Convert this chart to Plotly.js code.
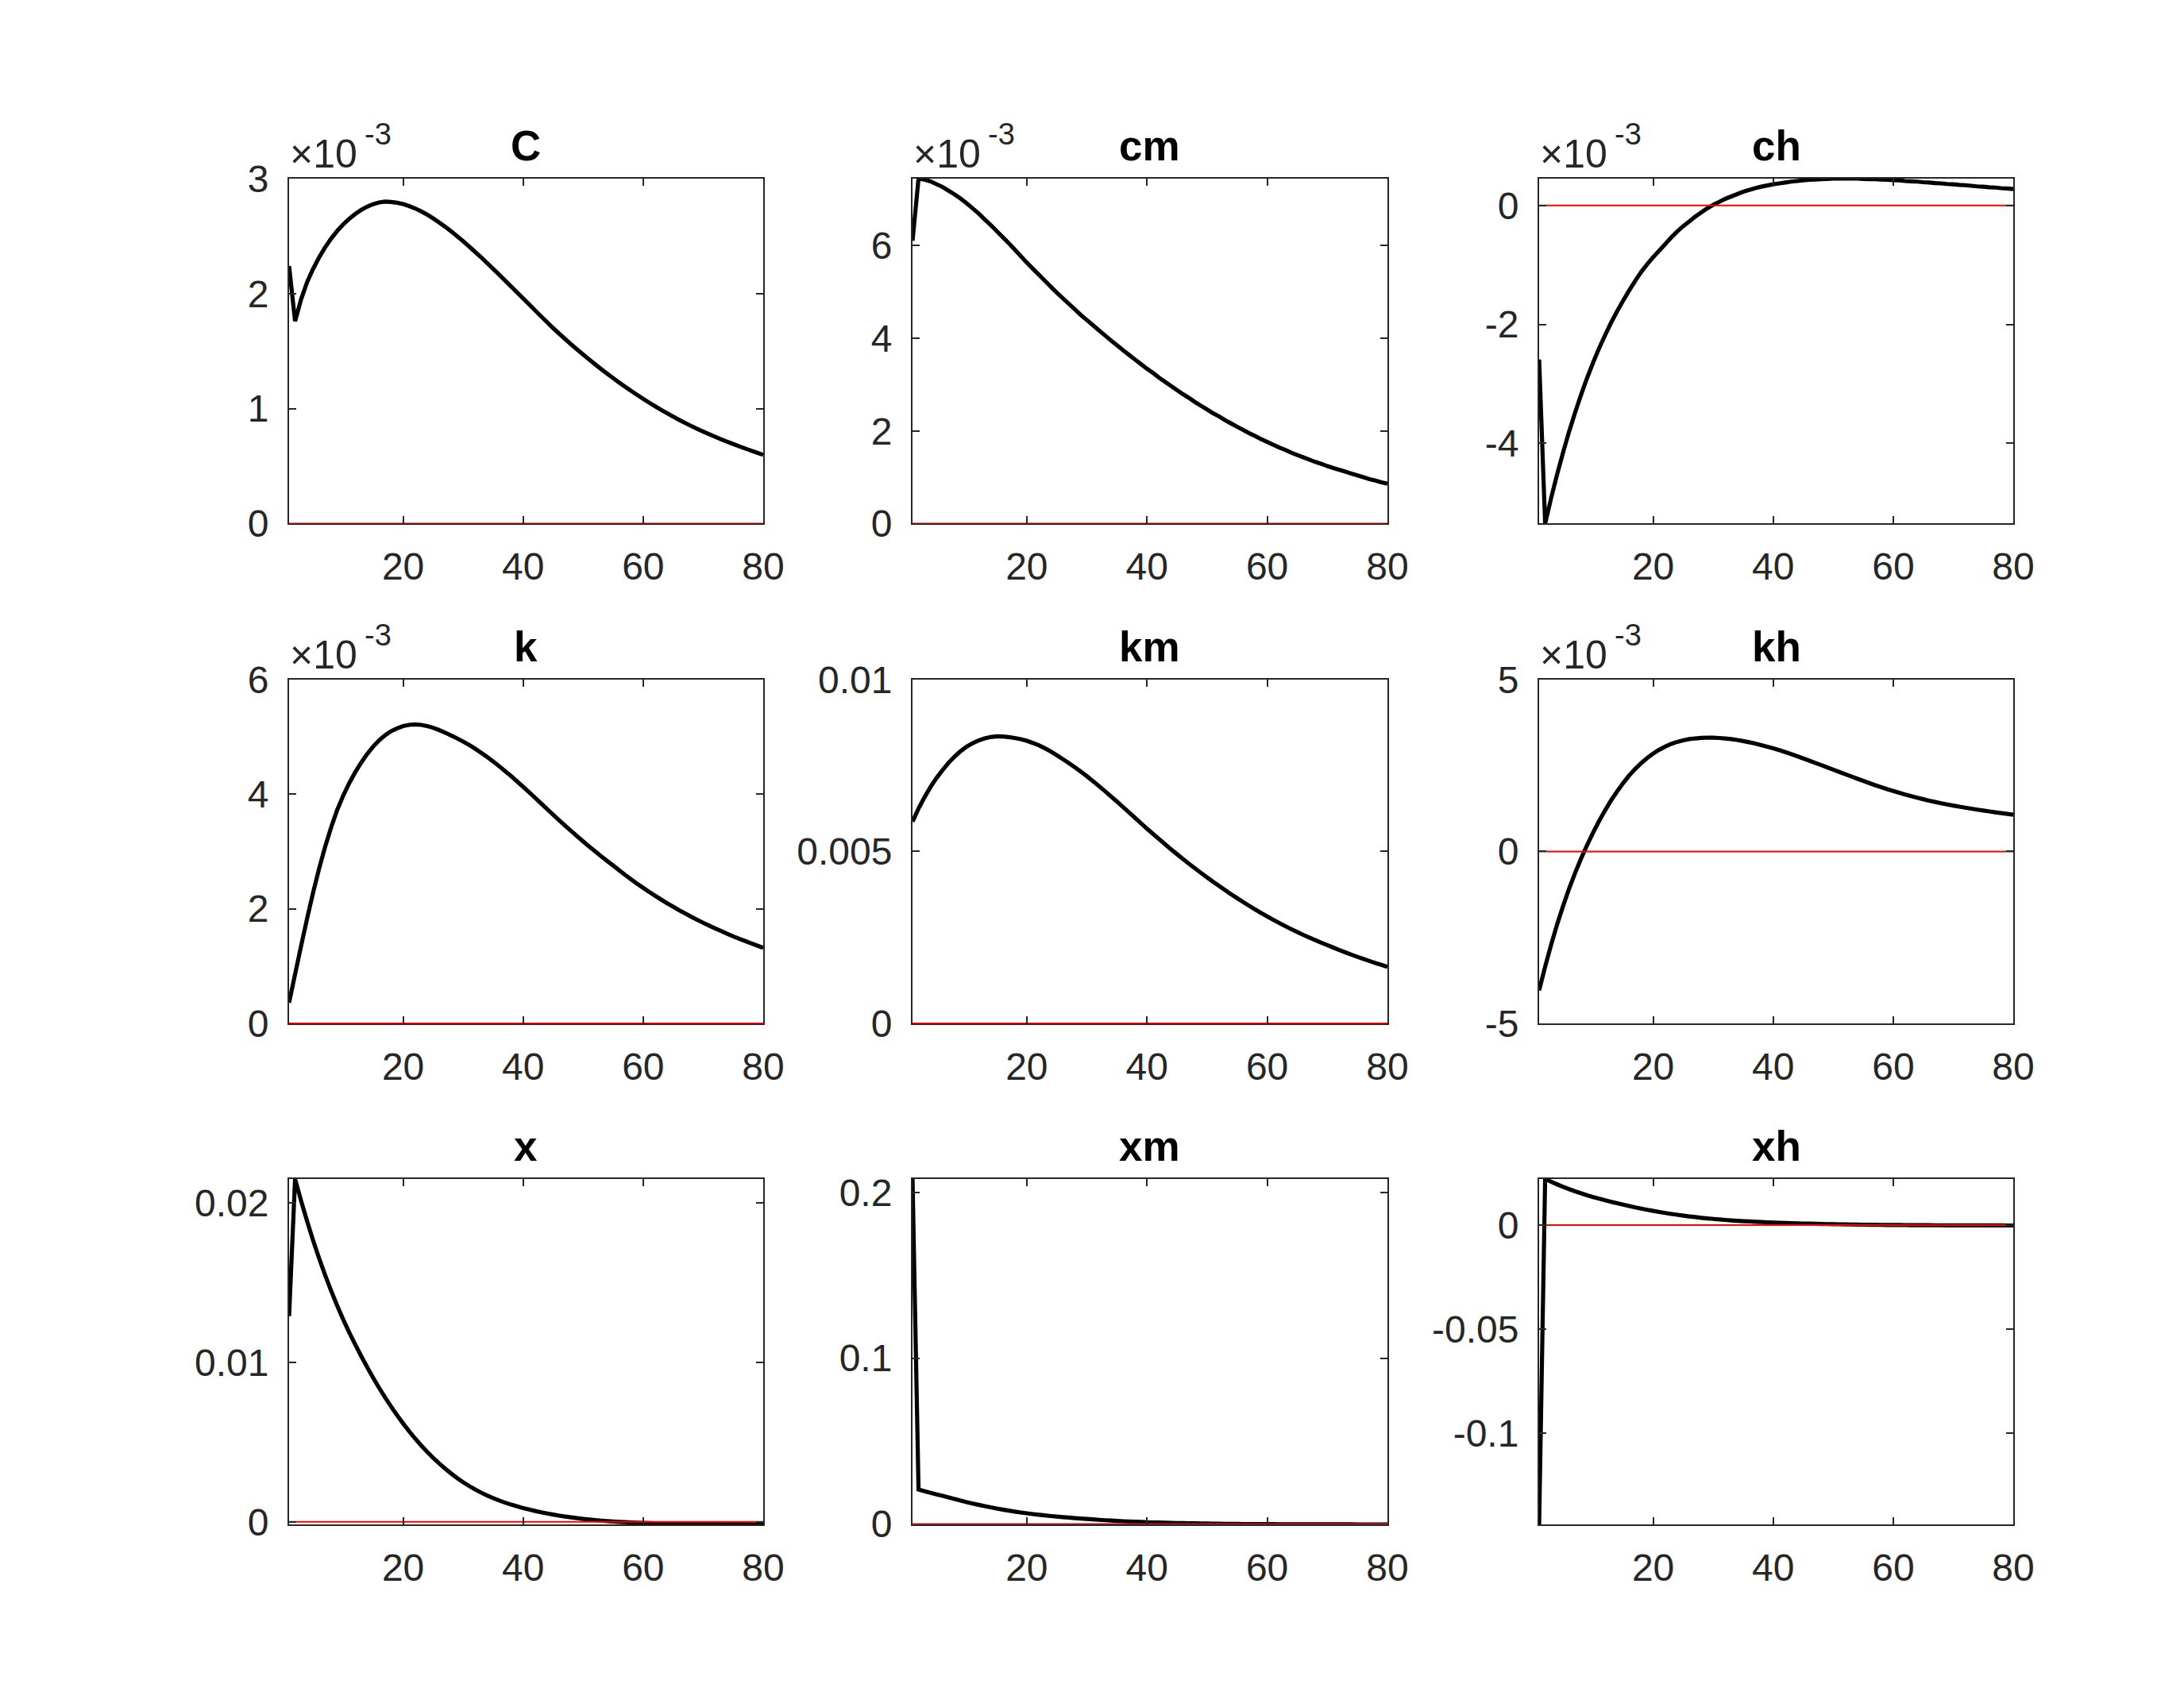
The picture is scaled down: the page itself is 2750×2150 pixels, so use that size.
<!DOCTYPE html>
<html><head><meta charset="utf-8">
<script src="https://cdn.plot.ly/plotly-3.0.1.min.js"></script>
<style>html,body{margin:0;padding:0;background:#fff}#chart{width:2750px;height:2150px}</style>
</head><body><div id="chart"></div>
<script>
const periods = [1,2,3,4,5,6,7,8,9,10,11,12,13,14,15,16,17,18,19,20,21,22,23,24,25,26,27,28,29,30,31,32,33,34,35,36,37,38,39,40,41,42,43,44,45,46,47,48,49,50,51,52,53,54,55,56,57,58,59,60,61,62,63,64,65,66,67,68,69,70,71,72,73,74,75,76,77,78,79,80];

// values in units of 10^-3 (these axes carry the x10^-3 multiplier)
const C = [2.24,1.76,1.95,2.10,2.215,2.315,2.402,2.478,2.544,2.601,
 2.650,2.692,2.727,2.756,2.778,2.793,2.800,2.797,2.790,2.779,
 2.762,2.741,2.716,2.687,2.655,2.620,2.582,2.542,2.500,2.456,
 2.410,2.363,2.315,2.266,2.216,2.165,2.114,2.062,2.010,1.958,
 1.906,1.854,1.802,1.751,1.700,1.652,1.605,1.559,1.514,1.470,
 1.427,1.385,1.344,1.304,1.265,1.227,1.190,1.154,1.119,1.085,
 1.052,1.020,0.989,0.959,0.930,0.902,0.875,0.849,0.824,0.800,
 0.777,0.755,0.733,0.712,0.692,0.672,0.653,0.634,0.616,0.598];

const cm = [6.10,7.44,7.42,7.38,7.32,7.26,7.18,7.10,7.01,6.91,
 6.80,6.69,6.56,6.44,6.31,6.18,6.05,5.91,5.77,5.63,
 5.50,5.37,5.24,5.11,4.98,4.86,4.74,4.62,4.50,4.39,
 4.28,4.17,4.06,3.95,3.85,3.74,3.64,3.54,3.44,3.34,
 3.25,3.15,3.06,2.97,2.88,2.79,2.71,2.62,2.54,2.46,
 2.38,2.31,2.23,2.16,2.09,2.02,1.95,1.89,1.82,1.76,
 1.70,1.64,1.59,1.53,1.48,1.43,1.38,1.33,1.29,1.24,
 1.20,1.16,1.12,1.08,1.04,1.00,0.96,0.93,0.89,0.86];

const ch = [-2.59,-5.35,-4.92,-4.52,-4.15,-3.80,-3.48,-3.18,-2.90,-2.64,
 -2.40,-2.18,-1.97,-1.78,-1.60,-1.43,-1.27,-1.12,-0.99,-0.87,
 -0.76,-0.65,-0.54,-0.44,-0.35,-0.27,-0.19,-0.12,-0.05,0.01,
 0.06,0.11,0.15,0.19,0.23,0.26,0.29,0.315,0.335,0.355,
 0.37,0.385,0.40,0.41,0.42,0.43,0.435,0.44,0.445,0.45,
 0.45,0.45,0.45,0.45,0.445,0.44,0.44,0.435,0.43,0.425,
 0.42,0.41,0.405,0.40,0.39,0.385,0.375,0.37,0.36,0.355,
 0.345,0.34,0.33,0.32,0.315,0.305,0.30,0.29,0.285,0.275];

const k = [0.36,0.86,1.35,1.83,2.28,2.70,3.08,3.42,3.72,3.97,
 4.19,4.38,4.55,4.70,4.83,4.94,5.03,5.10,5.15,5.19,
 5.21,5.22,5.21,5.19,5.16,5.12,5.075,5.025,4.975,4.92,
 4.860,4.794,4.724,4.650,4.572,4.490,4.404,4.315,4.223,4.129,
 4.033,3.936,3.838,3.740,3.642,3.545,3.451,3.358,3.266,3.176,
 3.088,3.002,2.918,2.836,2.756,2.673,2.592,2.513,2.438,2.366,
 2.296,2.227,2.161,2.097,2.036,1.976,1.918,1.862,1.808,1.756,
 1.706,1.658,1.611,1.565,1.520,1.478,1.437,1.397,1.358,1.320];

const kh = [-4.04,-3.35,-2.71,-2.12,-1.58,-1.08,-0.62,-0.20,0.19,0.55,
 0.89,1.20,1.49,1.75,1.99,2.21,2.40,2.57,2.72,2.85,
 2.96,3.05,3.13,3.19,3.235,3.27,3.29,3.305,3.31,3.31,
 3.303,3.289,3.269,3.244,3.214,3.179,3.140,3.097,3.051,3.001,
 2.948,2.892,2.833,2.771,2.708,2.644,2.579,2.513,2.447,2.381,
 2.316,2.250,2.184,2.118,2.054,1.991,1.930,1.871,1.814,1.759,
 1.707,1.657,1.609,1.564,1.521,1.480,1.441,1.404,1.369,1.336,
 1.305,1.275,1.246,1.218,1.191,1.165,1.140,1.116,1.093,1.070];

// values in natural units
const km = [0.00587,0.00625,0.00658,0.00688,0.00714,0.00737,0.00758,0.00776,0.00792,0.00805,
 0.00815,0.00823,0.00829,0.00833,0.00835,0.008345,0.00833,0.008303,0.008266,0.00822,
 0.00816,0.00809,0.008005,0.00791,0.0078,0.007688,0.007571,0.007449,0.007322,0.00719,
 0.00705,0.006906,0.006758,0.006607,0.006454,0.006297,0.006139,0.005981,0.005823,0.005665,
 0.005513,0.005362,0.005213,0.005066,0.004922,0.004781,0.004643,0.004508,0.004376,0.004247,
 0.00412,0.003996,0.003875,0.003757,0.003642,0.00353,0.003421,0.003315,0.003212,0.003112,
 0.003015,0.002921,0.00283,0.002742,0.002657,0.002575,0.002496,0.00242,0.002347,0.002277,
 0.002205,0.002135,0.002067,0.002001,0.001937,0.001875,0.001815,0.001757,0.001701,0.001647];

const x = [0.0129,0.0215,0.020135,0.018856,0.017657,0.016534,0.015482,0.014496,0.013572,0.012706,
 0.011895,0.011135,0.010406,0.009708,0.009041,0.008406,0.007801,0.007227,0.006683,0.006169,
 0.005684,0.005228,0.004799,0.004396,0.00402,0.003668,0.00334,0.003034,0.002751,0.002488,
 0.002249,0.002031,0.001833,0.001653,0.001489,0.00134,0.001204,0.00108,0.000968,0.000865,
 0.00077,0.000682,0.0006,0.000524,0.000455,0.000391,0.000333,0.00028,0.000231,0.000187,
 0.000147,0.000111,0.000078,0.000049,0.000023,0.0,-0.00002,-0.000038,-0.000054,-0.000068,
 -0.00008,-0.00009,-0.0001,-0.00011,-0.000115,-0.00012,-0.000125,-0.00013,-0.000134,-0.000138,
 -0.000141,-0.000144,-0.000147,-0.00015,-0.000152,-0.000154,-0.000156,-0.000157,-0.000158,-0.000159];

const xm = [0.208,0.0208,0.0198,0.0188,0.0179,0.0170,0.0161,0.01507,0.01410,0.01320,
 0.01236,0.01157,0.01083,0.01010,0.00938,0.00872,0.00810,0.00752,0.00699,0.00649,
 0.00603,0.00560,0.00520,0.00483,0.00449,0.00417,0.00387,0.00360,0.00334,0.00308,
 0.00280,0.00254,0.00230,0.00208,0.00188,0.00170,0.00153,0.00138,0.00124,0.00111,
 0.00099,0.00088,0.00078,0.00069,0.00061,0.00053,0.00046,0.00040,0.00034,0.00028,
 0.00023,0.00018,0.00014,0.00010,0.00007,0.00004,0.00001,-0.00001,-0.00003,-0.00005,
 -0.00007,-0.00009,-0.00010,-0.00012,-0.00013,-0.00014,-0.00015,-0.00016,-0.00017,-0.00017,
 -0.00018,-0.00018,-0.00019,-0.00019,-0.00020,-0.00020,-0.00020,-0.00021,-0.00021,-0.00021];

const xh = [-0.144,0.0222,0.02087,0.01962,0.01844,0.01733,0.01629,0.01531,0.01439,0.01353,
 0.01272,0.01196,0.01124,0.01055,0.00985,0.00918,0.00855,0.00795,0.00738,0.00685,
 0.00634,0.00586,0.00541,0.00499,0.00459,0.00422,0.00388,0.00356,0.00327,0.00300,
 0.00275,0.00252,0.00231,0.00212,0.00194,0.00179,0.00165,0.00151,0.00139,0.00128,
 0.00117,0.00107,0.00098,0.00089,0.00081,0.00073,0.00066,0.00059,0.00053,0.00047,
 0.00042,0.00037,0.00032,0.00028,0.00024,0.00020,0.00017,0.00014,0.00011,0.00008,
 0.00006,0.00004,0.00002,0.00000,-0.00002,-0.00003,-0.00005,-0.00006,-0.00007,-0.00008,
 -0.00009,-0.00010,-0.00011,-0.00011,-0.00012,-0.00012,-0.00013,-0.00013,-0.00014,-0.00014];

const zeroLine = [0,0];
const zeroX = [1,80];
const xTickVals = [20,40,60,80];
const xTickText = ['20','40','60','80'];

const titles = ['C','cm','ch','k','km','kh','x','xm','xh'];
const series = [C, cm, ch, k, km, kh, x, xm, xh];
const yTickVals = [[0,1,2,3],[0,2,4,6],[-4,-2,0],[0,2,4,6],[0,0.005,0.01],[-5,0,5],[0,0.01,0.02],[0,0.1,0.2],[-0.1,-0.05,0]];
const yTickText = [['0','1','2','3'],['0','2','4','6'],['-4','-2','0'],['0','2','4','6'],['0','0.005','0.01'],['-5','0','5'],['0','0.01','0.02'],['0','0.1','0.2'],['-0.1','-0.05','0']];
const hasMultiplier = [true,true,true,true,false,true,false,false,false];
const multBase = '×10';
const multExp = '-3';
const fixedRanges = [[0,3],null,null,[0,6],[0,0.01],[-5,5],null,null,null];

const colDom = [[0.13236,0.34945],[0.41782,0.63527],[0.70473,0.92182]];
const rowDom = [[0.69326,0.89535],[0.40047,0.60186],[0.10698,0.30930]];

const FONT = 'Liberation Sans, Arial, Helvetica, sans-serif';
const AXC = '#262626';
const traces = [];
const layout = {
  width: 2750, height: 2150,
  margin: {l:0, r:0, t:0, b:0},
  paper_bgcolor: '#ffffff', plot_bgcolor: '#ffffff',
  showlegend: false,
  font: {family: FONT, color: AXC},
  annotations: []
};

for (let i = 0; i < 9; i++) {
  const r = Math.floor(i / 3), c = i % 3;
  const sfx = i === 0 ? '' : String(i + 1);
  const xa = 'x' + sfx, ya = 'y' + sfx;
  const d = series[i];
  traces.push({x: periods, y: d, xaxis: xa, yaxis: ya, type: 'scatter', mode: 'lines',
    line: {color: '#000000', width: 5.2, simplify: false}, hoverinfo: 'skip'});
  traces.push({x: zeroX, y: zeroLine, xaxis: xa, yaxis: ya, type: 'scatter', mode: 'lines',
    line: {color: '#ff0000', width: 2, simplify: false}, hoverinfo: 'skip'});
  const rng = fixedRanges[i] || [Math.min(0, ...d), Math.max(0, ...d)];
  const common = {
    showline: true, linecolor: AXC, linewidth: 2, mirror: 'allticks',
    ticks: 'inside', ticklen: 9, tickwidth: 2, tickcolor: AXC,
    showgrid: false, zeroline: false, fixedrange: true,
    tickfont: {family: FONT, size: 48, color: AXC}
  };
  layout['xaxis' + sfx] = Object.assign({}, common, {
    domain: colDom[c], anchor: ya, range: [1, 80],
    tickmode: 'array', tickvals: xTickVals, ticktext: xTickText,
    ticklabelstandoff: 11
  });
  layout['yaxis' + sfx] = Object.assign({}, common, {
    domain: rowDom[r], anchor: xa, range: rng,
    tickmode: 'array', tickvals: yTickVals[i], ticktext: yTickText[i],
    ticklabelstandoff: 14
  });
  const xc = (colDom[c][0] + colDom[c][1]) / 2;
  layout.annotations.push({text: '<b>' + titles[i] + '</b>', xref: 'paper', yref: 'paper',
    x: xc, y: rowDom[r][1], xanchor: 'center', yanchor: 'bottom', yshift: 10, showarrow: false,
    font: {family: FONT, size: 53, color: '#000000'}});
  if (hasMultiplier[i]) {
    layout.annotations.push({text: multBase, xref: 'paper', yref: 'paper',
      x: colDom[c][0], y: rowDom[r][1], xanchor: 'left', yanchor: 'bottom', xshift: -1, yshift: 1,
      showarrow: false, font: {family: FONT, size: 50, color: AXC}});
    layout.annotations.push({text: multExp, xref: 'paper', yref: 'paper',
      x: colDom[c][0], y: rowDom[r][1], xanchor: 'left', yanchor: 'bottom', xshift: 93, yshift: 33,
      showarrow: false, font: {family: FONT, size: 38, color: AXC}});
  }
}

Plotly.newPlot('chart', traces, layout, {staticPlot: true, displayModeBar: false});
</script>
</body></html>
